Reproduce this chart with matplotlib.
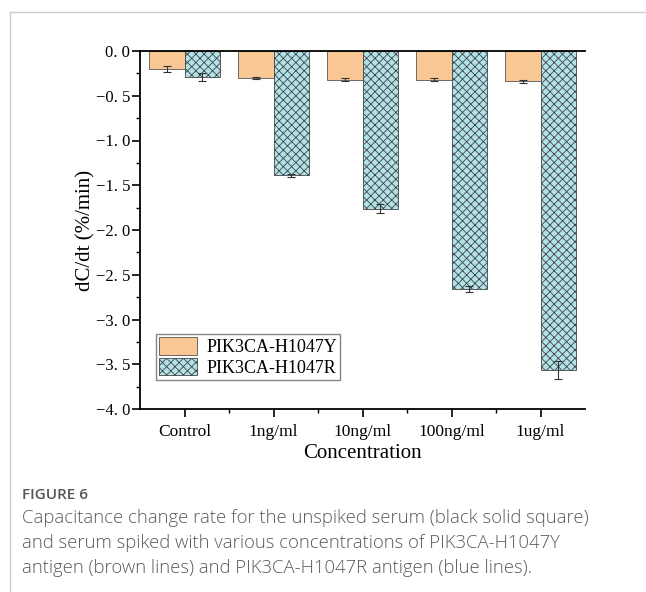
import numpy as np
import matplotlib.pyplot as plt
from matplotlib.ticker import MultipleLocator, FixedLocator

categories = ['Control', '1ng/ml', '10ng/ml', '100ng/ml', '1ug/ml']
h1047y = [-0.20, -0.30, -0.32, -0.32, -0.34]
h1047y_err = [0.03, 0.01, 0.015, 0.015, 0.02]
h1047r = [-0.29, -1.39, -1.76, -2.66, -3.56]
h1047r_err = [0.04, 0.02, 0.05, 0.03, 0.10]
yticks = [0.0, -0.5, -1.0, -1.5, -2.0, -2.5, -3.0, -3.5, -4.0]

plt.rcParams['hatch.color'] = '#333333'
plt.rcParams['hatch.linewidth'] = 0.6

fig = plt.figure(figsize=(6.46, 5.92), dpi=100)
ax = fig.add_axes([140/646, 1 - 409/592, 445/646, 358/592])

x = np.arange(1, len(categories) + 1)
w = 0.4
ax.bar(x - w/2, h1047y, w, color='#F9C794', edgecolor='#555555', linewidth=0.6,
       label='PIK3CA-H1047Y')
ax.bar(x + w/2, h1047r, w, color='#AFE3E8', edgecolor='#444444', linewidth=0.6,
       hatch='xxxx', label='PIK3CA-H1047R')
ax.errorbar(x - w/2, h1047y, yerr=h1047y_err, fmt='none', ecolor='#333333',
            elinewidth=0.8, capsize=3, capthick=0.8)
ax.errorbar(x + w/2, h1047r, yerr=h1047r_err, fmt='none', ecolor='#333333',
            elinewidth=0.8, capsize=3, capthick=0.8)

serif = 'Liberation Serif'
ax.set_xlim(0.5, 5.5)
ax.set_ylim(-4.0, 0.0)
ax.set_xticks(x)
ax.set_xticklabels(categories, family=serif, fontsize=12.5)
ax.xaxis.set_minor_locator(FixedLocator(x[:-1] + 0.5))
ax.set_yticks(yticks)
ax.set_yticklabels([f'{v:.1f}'.replace('-', '\u2212').replace('.', '. ') for v in yticks],
                   family=serif, fontsize=12)
ax.yaxis.set_minor_locator(MultipleLocator(0.25))
ax.tick_params(which='major', direction='out', length=6, width=1.2, pad=5)
ax.tick_params(axis='y', which='major', pad=1)
ax.tick_params(which='minor', direction='out', length=3, width=1.0)
ax.spines['right'].set_visible(False)
for s in ['left', 'top', 'bottom']:
    ax.spines[s].set_linewidth(1.3)
ax.set_xlabel('Concentration', family=serif, fontsize=15, va='center')
ax.set_ylabel('dC/dt (%/min)', family=serif, fontsize=15, va='center')
ax.xaxis.set_label_coords(0.5, (409 - 453) / 358)
ax.yaxis.set_label_coords((86 - 140) / 445, 0.5)

leg = ax.legend(loc='lower left', bbox_to_anchor=(0.035, 0.08), fancybox=False,
                edgecolor='#666666', prop={'family': serif, 'size': 13},
                handlelength=2.1, handleheight=1.1, borderpad=0.2,
                labelspacing=0.1, handletextpad=0.5, borderaxespad=0)
leg.get_frame().set_linewidth(1.0)

# card border
fig.add_artist(plt.Line2D([10/646, 1], [1 - 12/592, 1 - 12/592], color='#cccccc', lw=1))
fig.add_artist(plt.Line2D([10/646, 10/646], [0, 1 - 12/592], color='#cccccc', lw=1))

fig.text(22/646, 1 - 495/592, 'FIGURE 6', family='Open Sans', fontsize=11,
         color='#555555', va='center', weight='semibold')
caption = ['Capacitance change rate for the unspiked serum (black solid square)',
           'and serum spiked with various concentrations of PIK3CA-H1047Y',
           'antigen (brown lines) and PIK3CA-H1047R antigen (blue lines).']
for i, line in enumerate(caption):
    fig.text(22/646, 1 - (518 + 25 * i)/592, line, family='Open Sans', fontsize=13.3,
             color='#5a5a5a', va='center', weight='light')

fig.savefig('out.png', dpi=100)
